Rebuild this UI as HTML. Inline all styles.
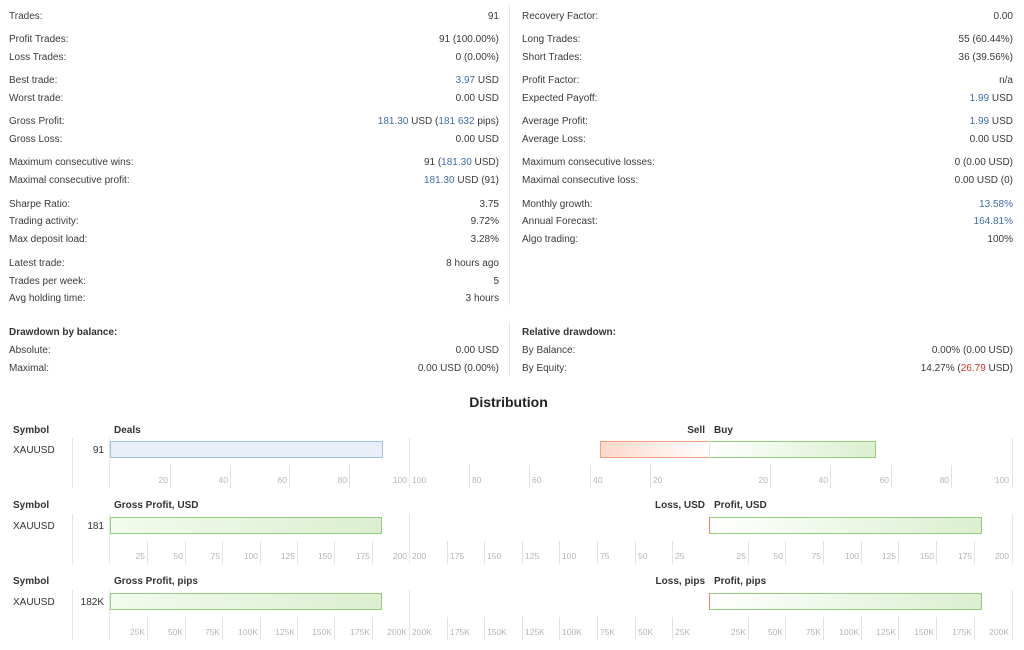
<!DOCTYPE html>
<html><head><meta charset="utf-8">
<style>
*{margin:0;padding:0;box-sizing:border-box}
body{width:1024px;height:650px;background:#fff;position:relative;overflow:hidden;font-family:"Liberation Sans",Arial,sans-serif;font-size:10px;color:#3a3a3a}
.t{position:absolute;line-height:18px;height:18px;white-space:nowrap;margin-top:2px}
.b{font-weight:bold;color:#333}
.bl{color:#3f6fa6}
.rd{color:#d7322a}
.vl{position:absolute;width:1px;background:#e6e6e6}
.tk{position:absolute;width:1px;background:#e2e2e2}
.tl{position:absolute;font-size:8.5px;color:#b5b5b5;line-height:12px;white-space:nowrap;margin-top:1px}
.bar{position:absolute;height:17px}
</style></head><body>

<!-- divider -->
<div class="vl" style="left:509px;top:5px;height:300px"></div>
<div class="vl" style="left:509px;top:322px;height:54px"></div>

<!-- LEFT COLUMN -->
<div class="t" style="left:9px;top:6px">Trades:</div><div class="t" style="right:525px;top:6px">91</div>
<div class="t" style="left:9px;top:29px">Profit Trades:</div><div class="t" style="right:525px;top:29px">91 (100.00%)</div>
<div class="t" style="left:9px;top:47px">Loss Trades:</div><div class="t" style="right:525px;top:47px">0 (0.00%)</div>
<div class="t" style="left:9px;top:70px">Best trade:</div><div class="t" style="right:525px;top:70px"><span class="bl">3.97</span> USD</div>
<div class="t" style="left:9px;top:88px">Worst trade:</div><div class="t" style="right:525px;top:88px">0.00 USD</div>
<div class="t" style="left:9px;top:111px">Gross Profit:</div><div class="t" style="right:525px;top:111px"><span class="bl">181.30</span> USD (<span class="bl">181 632</span> pips)</div>
<div class="t" style="left:9px;top:129px">Gross Loss:</div><div class="t" style="right:525px;top:129px">0.00 USD</div>
<div class="t" style="left:9px;top:152px">Maximum consecutive wins:</div><div class="t" style="right:525px;top:152px">91 (<span class="bl">181.30</span> USD)</div>
<div class="t" style="left:9px;top:170px">Maximal consecutive profit:</div><div class="t" style="right:525px;top:170px"><span class="bl">181.30</span> USD (91)</div>
<div class="t" style="left:9px;top:194px">Sharpe Ratio:</div><div class="t" style="right:525px;top:194px">3.75</div>
<div class="t" style="left:9px;top:211px">Trading activity:</div><div class="t" style="right:525px;top:211px">9.72%</div>
<div class="t" style="left:9px;top:229px">Max deposit load:</div><div class="t" style="right:525px;top:229px">3.28%</div>
<div class="t" style="left:9px;top:253px">Latest trade:</div><div class="t" style="right:525px;top:253px">8 hours ago</div>
<div class="t" style="left:9px;top:271px">Trades per week:</div><div class="t" style="right:525px;top:271px">5</div>
<div class="t" style="left:9px;top:288px">Avg holding time:</div><div class="t" style="right:525px;top:288px">3 hours</div>

<div class="t b" style="left:9px;top:322px">Drawdown by balance:</div>
<div class="t" style="left:9px;top:340px">Absolute:</div><div class="t" style="right:525px;top:340px">0.00 USD</div>
<div class="t" style="left:9px;top:358px">Maximal:</div><div class="t" style="right:525px;top:358px">0.00 USD (0.00%)</div>

<!-- RIGHT COLUMN -->
<div class="t" style="left:522px;top:6px">Recovery Factor:</div><div class="t" style="right:11px;top:6px">0.00</div>
<div class="t" style="left:522px;top:29px">Long Trades:</div><div class="t" style="right:11px;top:29px">55 (60.44%)</div>
<div class="t" style="left:522px;top:47px">Short Trades:</div><div class="t" style="right:11px;top:47px">36 (39.56%)</div>
<div class="t" style="left:522px;top:70px">Profit Factor:</div><div class="t" style="right:11px;top:70px">n/a</div>
<div class="t" style="left:522px;top:88px">Expected Payoff:</div><div class="t" style="right:11px;top:88px"><span class="bl">1.99</span> USD</div>
<div class="t" style="left:522px;top:111px">Average Profit:</div><div class="t" style="right:11px;top:111px"><span class="bl">1.99</span> USD</div>
<div class="t" style="left:522px;top:129px">Average Loss:</div><div class="t" style="right:11px;top:129px">0.00 USD</div>
<div class="t" style="left:522px;top:152px">Maximum consecutive losses:</div><div class="t" style="right:11px;top:152px">0 (0.00 USD)</div>
<div class="t" style="left:522px;top:170px">Maximal consecutive loss:</div><div class="t" style="right:11px;top:170px">0.00 USD (0)</div>
<div class="t" style="left:522px;top:194px">Monthly growth:</div><div class="t" style="right:11px;top:194px"><span class="bl">13.58%</span></div>
<div class="t" style="left:522px;top:211px">Annual Forecast:</div><div class="t" style="right:11px;top:211px"><span class="bl">164.81%</span></div>
<div class="t" style="left:522px;top:229px">Algo trading:</div><div class="t" style="right:11px;top:229px">100%</div>

<div class="t b" style="left:522px;top:322px">Relative drawdown:</div>
<div class="t" style="left:522px;top:340px">By Balance:</div><div class="t" style="right:11px;top:340px">0.00% (0.00 USD)</div>
<div class="t" style="left:522px;top:358px">By Equity:</div><div class="t" style="right:11px;top:358px">14.27% (<span class="rd">26.79</span> USD)</div>

<!-- DISTRIBUTION -->
<div style="position:absolute;left:0;width:1017px;top:393px;text-align:center;font-weight:bold;font-size:14px;line-height:18px;color:#222">Distribution</div>

<!-- BLOCK 1 -->
<div class="t b" style="left:13px;top:420px">Symbol</div>
<div class="t b" style="left:114px;top:420px">Deals</div>
<div class="t b" style="right:319px;top:420px">Sell</div>
<div class="t b" style="left:714px;top:420px">Buy</div>
<div class="t" style="left:13px;top:440px;color:#333">XAUUSD</div>
<div class="t" style="right:920px;top:440px;color:#333">91</div>
<div class="vl" style="left:72px;top:438px;height:50px"></div>
<div class="vl" style="left:109px;top:438px;height:50px"></div>
<div class="vl" style="left:409px;top:438px;height:50px"></div>
<div class="vl" style="left:1012px;top:438px;height:50px"></div>
<div class="bar" style="left:110px;top:441px;width:273px;background:#e9eff9;border:1px solid #a3c0e6"></div>
<div class="bar" style="left:600px;top:441px;width:110px;background:linear-gradient(to right,#fcd8c8,#fff);border:1px solid #f3a083;border-right:1px solid #e6e6e6"></div>
<div class="bar" style="left:710px;top:441px;width:166px;background:linear-gradient(to right,#fff,#dbefcf);border:1px solid #92cf7c;border-left:none"></div>
<!-- ticks block 1 -->
<div class="tk" style="left:170px;top:465px;height:23px"></div><div class="tl" style="right:856px;top:473px">20</div>
<div class="tk" style="left:230px;top:465px;height:23px"></div><div class="tl" style="right:796px;top:473px">40</div>
<div class="tk" style="left:289px;top:465px;height:23px"></div><div class="tl" style="right:737px;top:473px">60</div>
<div class="tk" style="left:349px;top:465px;height:23px"></div><div class="tl" style="right:677px;top:473px">80</div>
<div class="tl" style="right:617px;top:473px">100</div>
<div class="tl" style="left:412px;top:473px">100</div>
<div class="tk" style="left:469px;top:465px;height:23px"></div><div class="tl" style="left:472px;top:473px">80</div>
<div class="tk" style="left:529px;top:465px;height:23px"></div><div class="tl" style="left:532px;top:473px">60</div>
<div class="tk" style="left:590px;top:465px;height:23px"></div><div class="tl" style="left:593px;top:473px">40</div>
<div class="tk" style="left:650px;top:465px;height:23px"></div><div class="tl" style="left:653px;top:473px">20</div>
<div class="tk" style="left:770px;top:465px;height:23px"></div><div class="tl" style="right:256px;top:473px">20</div>
<div class="tk" style="left:830px;top:465px;height:23px"></div><div class="tl" style="right:196px;top:473px">40</div>
<div class="tk" style="left:891px;top:465px;height:23px"></div><div class="tl" style="right:135px;top:473px">60</div>
<div class="tk" style="left:951px;top:465px;height:23px"></div><div class="tl" style="right:75px;top:473px">80</div>
<div class="tl" style="right:15px;top:473px">100</div>

<!-- BLOCK 2 -->
<div class="t b" style="left:13px;top:495px">Symbol</div>
<div class="t b" style="left:114px;top:495px">Gross Profit, USD</div>
<div class="t b" style="right:319px;top:495px">Loss, USD</div>
<div class="t b" style="left:714px;top:495px">Profit, USD</div>
<div class="t" style="left:13px;top:516px;color:#333">XAUUSD</div>
<div class="t" style="right:920px;top:516px;color:#333">181</div>
<div class="vl" style="left:72px;top:514px;height:50px"></div>
<div class="vl" style="left:109px;top:514px;height:50px"></div>
<div class="vl" style="left:409px;top:514px;height:50px"></div>
<div class="vl" style="left:1012px;top:514px;height:50px"></div>
<div class="bar" style="left:110px;top:517px;width:272px;background:linear-gradient(to right,#f3faef,#dbefcf);border:1px solid #92cf7c"></div>
<div style="position:absolute;left:709px;top:517px;width:1px;height:17px;background:#f3866a"></div>
<div class="bar" style="left:710px;top:517px;width:272px;background:linear-gradient(to right,#fff,#dbefcf);border:1px solid #92cf7c;border-left:none"></div>
<!-- ticks block 2 -->
<div class="tk" style="left:147px;top:541px;height:23px"></div><div class="tl" style="right:879px;top:549px">25</div>
<div class="tk" style="left:185px;top:541px;height:23px"></div><div class="tl" style="right:841px;top:549px">50</div>
<div class="tk" style="left:222px;top:541px;height:23px"></div><div class="tl" style="right:804px;top:549px">75</div>
<div class="tk" style="left:260px;top:541px;height:23px"></div><div class="tl" style="right:766px;top:549px">100</div>
<div class="tk" style="left:297px;top:541px;height:23px"></div><div class="tl" style="right:729px;top:549px">125</div>
<div class="tk" style="left:334px;top:541px;height:23px"></div><div class="tl" style="right:692px;top:549px">150</div>
<div class="tk" style="left:372px;top:541px;height:23px"></div><div class="tl" style="right:654px;top:549px">175</div>
<div class="tl" style="right:617px;top:549px">200</div>
<div class="tl" style="left:412px;top:549px">200</div>
<div class="tk" style="left:447px;top:541px;height:23px"></div><div class="tl" style="left:450px;top:549px">175</div>
<div class="tk" style="left:484px;top:541px;height:23px"></div><div class="tl" style="left:487px;top:549px">150</div>
<div class="tk" style="left:522px;top:541px;height:23px"></div><div class="tl" style="left:525px;top:549px">125</div>
<div class="tk" style="left:559px;top:541px;height:23px"></div><div class="tl" style="left:562px;top:549px">100</div>
<div class="tk" style="left:597px;top:541px;height:23px"></div><div class="tl" style="left:600px;top:549px">75</div>
<div class="tk" style="left:635px;top:541px;height:23px"></div><div class="tl" style="left:638px;top:549px">50</div>
<div class="tk" style="left:672px;top:541px;height:23px"></div><div class="tl" style="left:675px;top:549px">25</div>
<div class="tk" style="left:748px;top:541px;height:23px"></div><div class="tl" style="right:278px;top:549px">25</div>
<div class="tk" style="left:785px;top:541px;height:23px"></div><div class="tl" style="right:241px;top:549px">50</div>
<div class="tk" style="left:823px;top:541px;height:23px"></div><div class="tl" style="right:203px;top:549px">75</div>
<div class="tk" style="left:861px;top:541px;height:23px"></div><div class="tl" style="right:165px;top:549px">100</div>
<div class="tk" style="left:898px;top:541px;height:23px"></div><div class="tl" style="right:128px;top:549px">125</div>
<div class="tk" style="left:936px;top:541px;height:23px"></div><div class="tl" style="right:90px;top:549px">150</div>
<div class="tk" style="left:974px;top:541px;height:23px"></div><div class="tl" style="right:52px;top:549px">175</div>
<div class="tl" style="right:15px;top:549px">200</div>

<!-- BLOCK 3 -->
<div class="t b" style="left:13px;top:571px">Symbol</div>
<div class="t b" style="left:114px;top:571px">Gross Profit, pips</div>
<div class="t b" style="right:319px;top:571px">Loss, pips</div>
<div class="t b" style="left:714px;top:571px">Profit, pips</div>
<div class="t" style="left:13px;top:592px;color:#333">XAUUSD</div>
<div class="t" style="right:920px;top:592px;color:#333">182K</div>
<div class="vl" style="left:72px;top:590px;height:50px"></div>
<div class="vl" style="left:109px;top:590px;height:50px"></div>
<div class="vl" style="left:409px;top:590px;height:50px"></div>
<div class="vl" style="left:1012px;top:590px;height:50px"></div>
<div class="bar" style="left:110px;top:593px;width:272px;background:linear-gradient(to right,#f3faef,#dbefcf);border:1px solid #92cf7c"></div>
<div style="position:absolute;left:709px;top:593px;width:1px;height:17px;background:#f3866a"></div>
<div class="bar" style="left:710px;top:593px;width:272px;background:linear-gradient(to right,#fff,#dbefcf);border:1px solid #92cf7c;border-left:none"></div>
<!-- ticks block 3 -->
<div class="tk" style="left:147px;top:617px;height:23px"></div><div class="tl" style="right:879px;top:625px">25K</div>
<div class="tk" style="left:185px;top:617px;height:23px"></div><div class="tl" style="right:841px;top:625px">50K</div>
<div class="tk" style="left:222px;top:617px;height:23px"></div><div class="tl" style="right:804px;top:625px">75K</div>
<div class="tk" style="left:260px;top:617px;height:23px"></div><div class="tl" style="right:766px;top:625px">100K</div>
<div class="tk" style="left:297px;top:617px;height:23px"></div><div class="tl" style="right:729px;top:625px">125K</div>
<div class="tk" style="left:334px;top:617px;height:23px"></div><div class="tl" style="right:692px;top:625px">150K</div>
<div class="tk" style="left:372px;top:617px;height:23px"></div><div class="tl" style="right:654px;top:625px">175K</div>
<div class="tl" style="right:617px;top:625px">200K</div>
<div class="tl" style="left:412px;top:625px">200K</div>
<div class="tk" style="left:447px;top:617px;height:23px"></div><div class="tl" style="left:450px;top:625px">175K</div>
<div class="tk" style="left:484px;top:617px;height:23px"></div><div class="tl" style="left:487px;top:625px">150K</div>
<div class="tk" style="left:522px;top:617px;height:23px"></div><div class="tl" style="left:525px;top:625px">125K</div>
<div class="tk" style="left:559px;top:617px;height:23px"></div><div class="tl" style="left:562px;top:625px">100K</div>
<div class="tk" style="left:597px;top:617px;height:23px"></div><div class="tl" style="left:600px;top:625px">75K</div>
<div class="tk" style="left:635px;top:617px;height:23px"></div><div class="tl" style="left:638px;top:625px">50K</div>
<div class="tk" style="left:672px;top:617px;height:23px"></div><div class="tl" style="left:675px;top:625px">25K</div>
<div class="tk" style="left:748px;top:617px;height:23px"></div><div class="tl" style="right:278px;top:625px">25K</div>
<div class="tk" style="left:785px;top:617px;height:23px"></div><div class="tl" style="right:241px;top:625px">50K</div>
<div class="tk" style="left:823px;top:617px;height:23px"></div><div class="tl" style="right:203px;top:625px">75K</div>
<div class="tk" style="left:861px;top:617px;height:23px"></div><div class="tl" style="right:165px;top:625px">100K</div>
<div class="tk" style="left:898px;top:617px;height:23px"></div><div class="tl" style="right:128px;top:625px">125K</div>
<div class="tk" style="left:936px;top:617px;height:23px"></div><div class="tl" style="right:90px;top:625px">150K</div>
<div class="tk" style="left:974px;top:617px;height:23px"></div><div class="tl" style="right:52px;top:625px">175K</div>
<div class="tl" style="right:15px;top:625px">200K</div>

</body></html>
